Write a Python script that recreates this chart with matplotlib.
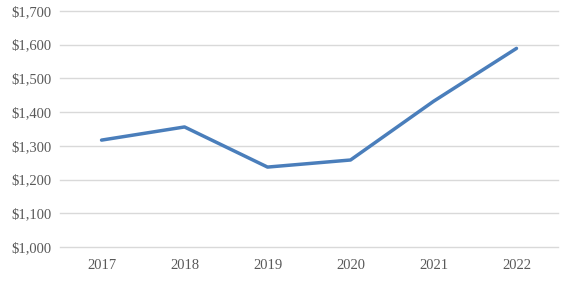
import matplotlib
matplotlib.use("Agg")
import matplotlib.pyplot as plt
from matplotlib.ticker import FuncFormatter

years = ["2017", "2018", "2019", "2020", "2021", "2022"]
values = [1317, 1356, 1237, 1258, 1432, 1589]

plt.rcParams['font.family'] = ['Liberation Serif', 'DejaVu Serif']

fig = plt.figure(figsize=(5.72, 2.81), dpi=100)
ax = fig.add_axes([0.105, 0.121, 0.8705, 0.840])

xs = range(len(years))
ax.plot(xs, values, color="#4a7ebb", linewidth=2.5, solid_capstyle="round")

ax.set_xlim(-0.5, len(years) - 0.5)
ax.set_ylim(1000, 1700)
ax.set_yticks(range(1000, 1701, 100))
ax.yaxis.set_major_formatter(FuncFormatter(lambda v, p: "${:,.0f}".format(v)))
ax.set_xticks(list(xs))
ax.set_xticklabels(years)

ax.grid(axis="y", color="#d9d9d9", linewidth=1.0)
for gl in ax.get_ygridlines():
    gl.set_clip_on(False)
ax.set_axisbelow(True)
for s in ax.spines.values():
    s.set_visible(False)
ax.tick_params(length=0, labelsize=10.5, colors="#595959", pad=6)
ax.tick_params(axis="x", pad=9)

fig.savefig("out.png", dpi=100)
